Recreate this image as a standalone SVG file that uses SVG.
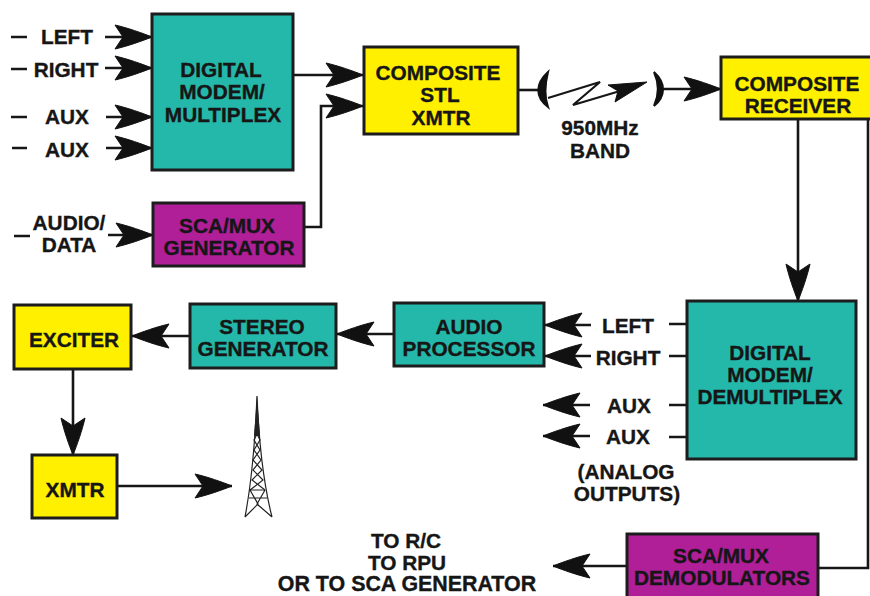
<svg xmlns="http://www.w3.org/2000/svg" width="870" height="596" viewBox="0 0 870 596">
<style>
text{font-family:"Liberation Sans",Arial,sans-serif;font-weight:700;font-size:20.8px;fill:#161616;text-anchor:middle;stroke:#161616;stroke-width:.35px}
.box{stroke:#1c1c1c;stroke-width:3}
.teal{fill:#24B8AA}.yellow{fill:#FFF000}.mag{fill:#B01E98}
.c{fill:none;stroke:#161616;stroke-width:2.6}
.a{marker-end:url(#h)}
.tw{fill:none;stroke:#222;stroke-width:1.2}
</style>
<defs>
<marker id="h" markerUnits="userSpaceOnUse" markerWidth="40" markerHeight="28" refX="38" refY="13" orient="auto">
<path d="M38 13C28 9 14 4 1 1L9 13 1 25C14 22 28 17 38 13Z" fill="#111" stroke="#111" stroke-width="1"/>
</marker>
</defs>
<rect width="870" height="596" fill="#fff"/>
<g id="connectors">
<path class="c a" d="M105 37H152"/>
<path class="c a" d="M105 68H152"/>
<path class="c a" d="M106 117H152"/>
<path class="c a" d="M106 148H152"/>
<path class="c a" d="M108 235H153"/>
<path class="c a" d="M293 75H363"/>
<path class="c a" d="M305 227H321V106H363"/>
<path class="c" d="M518 90H540"/>
<path class="c a" d="M662 89H721"/>
<path class="c a" d="M798 119V301"/>
<path class="c" d="M868 119V568H818"/>
<path class="c a" d="M591 325H545"/>
<path class="c a" d="M591 356H545"/>
<path class="c a" d="M590 405H543"/>
<path class="c a" d="M590 436H543"/>
<path class="c a" d="M627 566H553"/>
<path class="c a" d="M190 336H132"/>
<path class="c a" d="M394 334H337"/>
<path class="c a" d="M73 369V455"/>
<path class="c a" d="M117 486H232"/>
<path class="c" d="M669 324H687M669 356H687M669 405H687M669 437H687"/>
<path class="c" d="M11 37H27M11 69H27M11 117H27M12 148H27M14 236H30"/>
<path d="M548 72C535 84 535 97 548 107C544 96 545 84 548 72Z" fill="#111" stroke="#111" stroke-width="2"/>
<path d="M654 72C666 83 666 96 654 106C659 95 659 83 654 72Z" fill="#111" stroke="#111" stroke-width="2"/>
<path d="M548 98L600 82 573 105 620 91" fill="none" stroke="#161616" stroke-width="2.2"/>
<path d="M647 82L608 85 618 91 615 102Z" fill="#111" stroke="#111"/>
</g>
<g id="digital-modem-multiplex"><rect class="box teal" x="152" y="14" width="141" height="156"/><text x="221" y="77">DIGITAL</text><text x="222" y="99">MODEM/</text><text x="223" y="122">MULTIPLEX</text></g>
<g id="composite-stl-xmtr"><rect class="box yellow" x="364" y="47" width="154" height="87"/><text x="438" y="80">COMPOSITE</text><text x="440" y="102">STL</text><text x="441" y="125">XMTR</text></g>
<g id="composite-receiver"><rect class="box yellow" x="721" y="57" width="151" height="62"/><text x="797" y="91">COMPOSITE</text><text x="798" y="113">RECEIVER</text></g>
<g id="sca-mux-generator"><rect class="box mag" x="153" y="203" width="151" height="63"/><text x="227" y="233">SCA/MUX</text><text x="229" y="255">GENERATOR</text></g>
<g id="exciter"><rect class="box yellow" x="14" y="305" width="117" height="64"/><text x="74" y="347">EXCITER</text></g>
<g id="stereo-generator"><rect class="box teal" x="190" y="304" width="146" height="64"/><text x="262" y="334">STEREO</text><text x="263" y="356">GENERATOR</text></g>
<g id="audio-processor"><rect class="box teal" x="394" y="303" width="150" height="63"/><text x="469" y="334">AUDIO</text><text x="469" y="356">PROCESSOR</text></g>
<g id="digital-modem-demultiplex"><rect class="box teal" x="687" y="301" width="169" height="158"/><text x="770" y="360">DIGITAL</text><text x="770" y="382">MODEM/</text><text x="770" y="404">DEMULTIPLEX</text></g>
<g id="sca-mux-demodulators"><rect class="box mag" x="627" y="534" width="191" height="64"/><text x="721" y="563">SCA/MUX</text><text x="722" y="585">DEMODULATORS</text></g>
<g id="xmtr"><rect class="box yellow" x="32" y="455" width="85" height="63"/><text x="75" y="497">XMTR</text></g>
<g id="tower">
<path class="tw" d="M257 396Q254 470 245 517M257 396Q260 470 272 517M250 490L258 504 245 517M265 490L257 504 272 517M250 490H265M249 498H267"/>
<path class="tw" d="M255 430L260 440 254 450 261 460 253 470 263 480 250 490M259 430L254 440 260 450 253 460 262 470 252 480 265 490"/>
<path d="M257 396L254 436H260Z" fill="#222"/>
</g>
<g id="labels">
<text x="67" y="44">LEFT</text><text x="66" y="77">RIGHT</text><text x="67" y="124">AUX</text><text x="67" y="157">AUX</text>
<text x="69" y="230">AUDIO/</text><text x="69" y="252">DATA</text>
<text x="600" y="135">950MHz</text><text x="600" y="158">BAND</text>
<text x="628" y="333">LEFT</text><text x="628" y="365">RIGHT</text><text x="629" y="413">AUX</text><text x="628" y="444">AUX</text>
<text x="626" y="479">(ANALOG</text><text x="627" y="501">OUTPUTS)</text>
<text x="406" y="548">TO R/C</text><text x="407" y="570">TO RPU</text><text x="407" y="591" style="font-size:21.4px">OR TO SCA GENERATOR</text>
</g>
</svg>
